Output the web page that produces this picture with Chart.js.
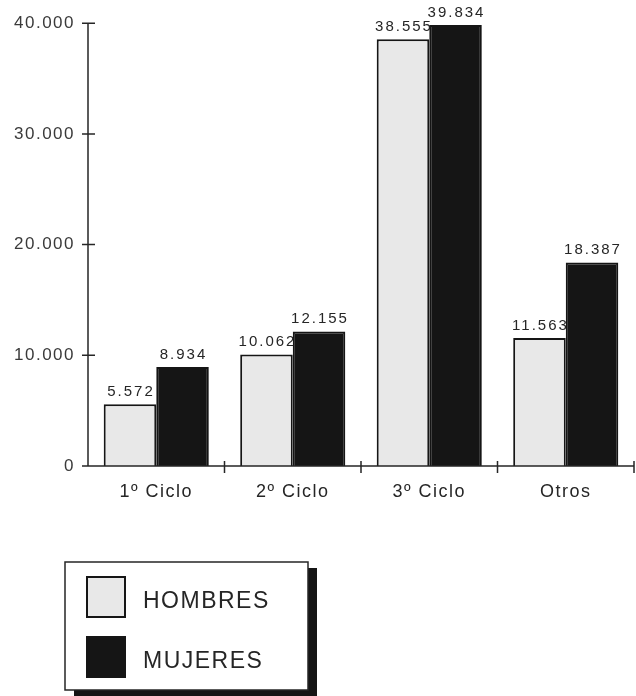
<!DOCTYPE html>
<html>
<head>
<meta charset="utf-8">
<script src="https://cdn.jsdelivr.net/npm/chart.js@4"></script>
<style>
  html, body { margin: 0; padding: 0; background: #fff; }
  #wrap { width: 636px; height: 696px; }
</style>
</head>
<body>
<div id="wrap"><canvas id="grafico" width="636" height="696"></canvas></div>
<script>
// Alumnos por ciclo y sexo
const ciclos = ['1º Ciclo', '2º Ciclo', '3º Ciclo', 'Otros'];
const hombres = [5572, 10062, 38555, 11563];
const mujeres = [8934, 12155, 39834, 18387];
const yMax = 40000;
const yPaso = 10000;

const TINTA = '#262626';
const GRIS = '#e8e8e8';
const NEGRO = '#151515';
const FUENTE = "'Liberation Sans', Arial, sans-serif";

// 10000 -> "10.000"
function fmt(v) {
    return String(v).replace(/\B(?=(\d{3})+(?!\d))/g, '.');
}

// the printed look uses widely spaced type
const espaciado = {
    id: 'espaciado',
    beforeLayout(chart) { chart.ctx.letterSpacing = '1.5px'; },
    beforeDraw(chart) { chart.ctx.letterSpacing = '1.5px'; }
};

// axis lines with ticks that cross them
const ejes = {
    id: 'ejes',
    afterDatasetsDraw(chart) {
        const ctx = chart.ctx;
        const x = chart.scales.x, y = chart.scales.y;
        const left = x.left, right = x.right;
        const base = y.getPixelForValue(0);
        const top = y.getPixelForValue(yMax);
        ctx.save();
        ctx.strokeStyle = TINTA;
        ctx.lineWidth = 1.5;
        ctx.beginPath();
        ctx.moveTo(left, top);
        ctx.lineTo(left, base);
        ctx.moveTo(left, base);
        ctx.lineTo(right, base);
        y.ticks.forEach(t => {
            const py = y.getPixelForValue(t.value);
            ctx.moveTo(left - 6, py);
            ctx.lineTo(left + 7, py);
        });
        const n = x.ticks.length;
        const w = (right - left) / n;
        for (let i = 1; i <= n; i++) {
            const px = left + w * i;
            ctx.moveTo(px, base - 5);
            ctx.lineTo(px, base + 7);
        }
        ctx.stroke();
        ctx.restore();
    }
};

// value printed above every bar
const valores = {
    id: 'valores',
    afterDatasetsDraw(chart) {
        const ctx = chart.ctx;
        ctx.save();
        ctx.font = '15px ' + FUENTE;
        ctx.letterSpacing = '2px';
        ctx.fillStyle = TINTA;
        ctx.textAlign = 'center';
        ctx.textBaseline = 'bottom';
        chart.data.datasets.forEach((ds, i) => {
            chart.getDatasetMeta(i).data.forEach((bar, j) => {
                ctx.fillText(fmt(ds.data[j]), bar.x + 1, bar.y - 5);
            });
        });
        ctx.restore();
    }
};

// boxed legend with a drop shadow, lower left
const leyenda = {
    id: 'leyenda',
    afterDraw(chart) {
        const ctx = chart.ctx;
        const bx = 65, by = 562, bw = 243, bh = 128;
        ctx.save();
        ctx.fillStyle = NEGRO;
        ctx.fillRect(bx + 9, by + 6, bw, bh);
        ctx.fillStyle = '#fff';
        ctx.fillRect(bx, by, bw, bh);
        ctx.strokeStyle = TINTA;
        ctx.lineWidth = 1.5;
        ctx.strokeRect(bx, by, bw, bh);
        ctx.font = '23px ' + FUENTE;
        ctx.letterSpacing = '1.5px';
        ctx.textBaseline = 'middle';
        chart.data.datasets.forEach((ds, i) => {
            const sy = by + 15 + i * 60;
            ctx.fillStyle = ds.backgroundColor;
            ctx.fillRect(bx + 22, sy, 38, 40);
            ctx.lineWidth = 2;
            ctx.strokeStyle = ds.borderColor;
            ctx.strokeRect(bx + 22, sy, 38, 40);
            ctx.fillStyle = TINTA;
            ctx.fillText(ds.label, bx + 78, sy + 25);
        });
        ctx.restore();
    }
};

new Chart(document.getElementById('grafico').getContext('2d'), {
    type: 'bar',
    data: {
        labels: ciclos,
        datasets: [
            {
                label: 'HOMBRES',
                data: hombres,
                backgroundColor: GRIS,
                borderColor: NEGRO,
                borderWidth: 2
            },
            {
                label: 'MUJERES',
                data: mujeres,
                backgroundColor: NEGRO,
                borderColor: NEGRO,
                borderWidth: 2
            }
        ]
    },
    options: {
        responsive: false,
        animation: false,
        devicePixelRatio: 1,
        layout: { padding: { top: 19, right: 2, left: 0, bottom: 0 } },
        datasets: {
            bar: { categoryPercentage: 0.77, barPercentage: 1 }
        },
        plugins: {
            legend: { display: false },
            tooltip: { enabled: false }
        },
        scales: {
            x: {
                grid: { display: false, drawTicks: false },
                border: { display: false },
                ticks: {
                    color: TINTA,
                    padding: 15,
                    font: { size: 18, family: FUENTE }
                },
                afterFit(scale) { scale.height = 230; }
            },
            y: {
                min: 0,
                max: yMax,
                grid: { display: false, drawTicks: false },
                border: { display: false },
                ticks: {
                    stepSize: yPaso,
                    color: '#3a3a3a',
                    padding: 13,
                    font: { size: 17, family: FUENTE },
                    callback: v => fmt(v)
                },
                afterFit(scale) { scale.width = 88; }
            }
        }
    },
    plugins: [espaciado, ejes, valores, leyenda]
});
</script>
</body>
</html>
